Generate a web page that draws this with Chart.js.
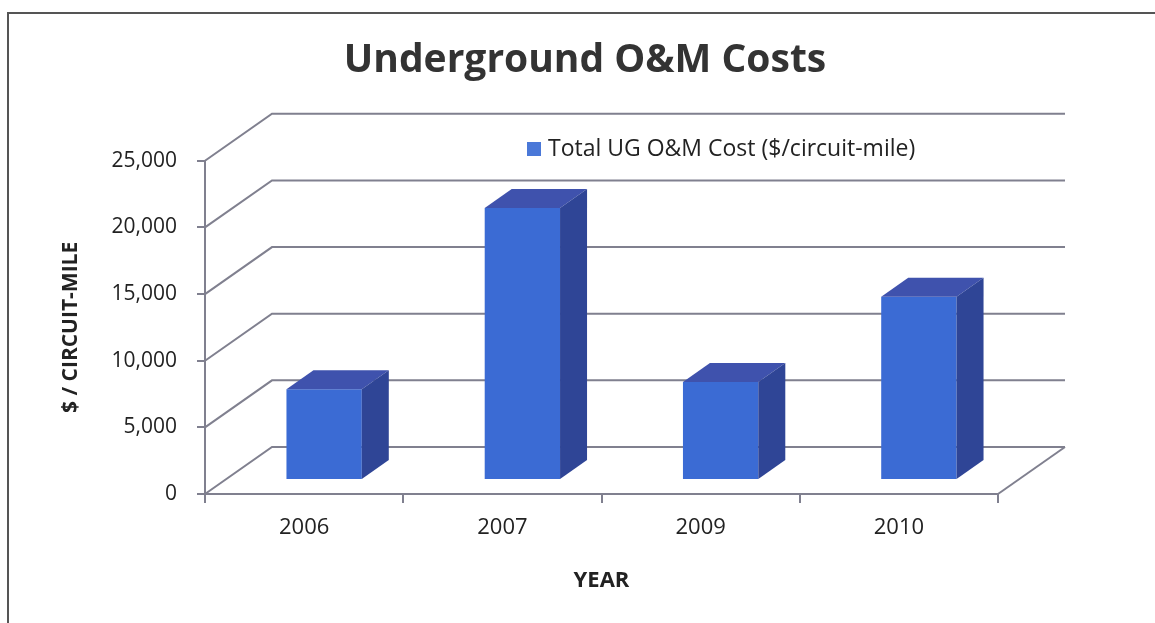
<!DOCTYPE html>
<html>
<head>
<meta charset="utf-8">
<script src="https://cdn.jsdelivr.net/npm/chart.js@4.4.0/dist/chart.umd.min.js"></script>
<style>
  html, body { margin: 0; padding: 0; background: #fff; }
  #wrap { width: 1155px; height: 623px; }
</style>
</head>
<body>
<div id="wrap"><canvas id="ugChart" width="1155" height="623"></canvas></div>
<script>
const years = ['2006', '2007', '2009', '2010'];
const ugCost = [6800, 20400, 7350, 13750];
const seriesLabel = 'Total UG O&M Cost ($/circuit-mile)';
const yTicks = [0, 5000, 10000, 15000, 20000, 25000];

// depth of the fake 3D box, and where the bars sit inside it
const DEPTH_X = 67, DEPTH_Y = -47;
const BAR_OFF_X = 20, BAR_OFF_Y = -14;
const BAR_DX = 27, BAR_DY = -19;

const lineColor = '#80808f';
const frontColor = '#3b6bd4';
const topColor = '#3f52ad';
const sideColor = '#2f4596';
const textColor = '#222';
const fontFamily = 'Open Sans';

const box3d = {
    id: 'box3d',
    beforeDraw(chart) {
        const ctx = chart.ctx;
        ctx.save();
        ctx.fillStyle = '#fff';
        ctx.fillRect(0, 0, chart.width, chart.height);
        ctx.strokeStyle = '#555';
        ctx.lineWidth = 2;
        ctx.beginPath();
        ctx.moveTo(8, chart.height);
        ctx.lineTo(8, 13);
        ctx.lineTo(chart.width, 13);
        ctx.stroke();
        ctx.restore();
    },
    beforeDatasetsDraw(chart) {
        const ctx = chart.ctx;
        const y = chart.scales.y;
        const area = chart.chartArea;
        ctx.save();
        ctx.strokeStyle = lineColor;
        ctx.lineWidth = 2;
        yTicks.forEach(function (v) {
            const py = y.getPixelForValue(v);
            ctx.beginPath();
            ctx.moveTo(area.left, py);
            ctx.lineTo(area.left + DEPTH_X, py + DEPTH_Y);
            ctx.lineTo(area.right + DEPTH_X, py + DEPTH_Y);
            ctx.stroke();
        });
        const p0 = y.getPixelForValue(0);
        ctx.beginPath();
        ctx.moveTo(area.right, p0);
        ctx.lineTo(area.right + DEPTH_X, p0 + DEPTH_Y);
        ctx.stroke();
        ctx.restore();

        // bars are drawn a bit back inside the box
        ctx.save();
        ctx.translate(BAR_OFF_X, BAR_OFF_Y);
    },
    afterDatasetsDraw(chart) {
        const ctx = chart.ctx;
        ctx.restore();
        ctx.save();
        ctx.translate(BAR_OFF_X, BAR_OFF_Y);
        chart.getDatasetMeta(0).data.forEach(function (bar) {
            const x0 = bar.x - bar.width / 2;
            const x1 = bar.x + bar.width / 2;
            const yt = bar.y;
            const yb = bar.base;
            ctx.fillStyle = topColor;
            ctx.beginPath();
            ctx.moveTo(x0, yt);
            ctx.lineTo(x0 + BAR_DX, yt + BAR_DY);
            ctx.lineTo(x1 + BAR_DX, yt + BAR_DY);
            ctx.lineTo(x1, yt);
            ctx.closePath();
            ctx.fill();
            ctx.fillStyle = sideColor;
            ctx.beginPath();
            ctx.moveTo(x1, yt);
            ctx.lineTo(x1 + BAR_DX, yt + BAR_DY);
            ctx.lineTo(x1 + BAR_DX, yb + BAR_DY);
            ctx.lineTo(x1, yb);
            ctx.closePath();
            ctx.fill();
        });
        ctx.restore();

        // legend
        ctx.save();
        ctx.fillStyle = '#4a78d8';
        ctx.fillRect(527, 142, 14, 14);
        ctx.fillStyle = textColor;
        ctx.font = '23px "' + fontFamily + '"';
        ctx.textBaseline = 'middle';
        ctx.fillText(seriesLabel, 548, 149);
        ctx.restore();
    }
};

const ctx = document.getElementById('ugChart').getContext('2d');
new Chart(ctx, {
    type: 'bar',
    data: {
        labels: years,
        datasets: [{
            label: seriesLabel,
            data: ugCost,
            backgroundColor: frontColor,
            borderWidth: 0,
            barPercentage: 0.38,
            categoryPercentage: 1
        }]
    },
    options: {
        responsive: false,
        animation: false,
        layout: { padding: { left: 15, right: 0, top: 0, bottom: 0 } },
        plugins: {
            legend: { display: false },
            tooltip: { enabled: false },
            title: {
                display: true,
                text: 'Underground O&M Costs',
                color: '#333',
                font: { family: fontFamily, size: 39, weight: 'bold' },
                padding: { top: 37, bottom: 77 }
            }
        },
        scales: {
            x: {
                afterFit(scale) { scale.height = 129; },
                grid: { drawOnChartArea: false, tickLength: 9, color: lineColor, lineWidth: 2 },
                border: { display: true, color: lineColor, width: 2 },
                ticks: { color: textColor, font: { family: fontFamily, size: 22 }, padding: 12 },
                title: {
                    display: true,
                    text: 'YEAR',
                    color: textColor,
                    font: { family: fontFamily, size: 22, weight: 'bold' },
                    padding: { top: 0, bottom: 29 }
                }
            },
            y: {
                min: 0,
                max: 25000,
                afterFit(scale) { scale.width = 190; },
                afterBuildTicks(scale) {
                    scale.ticks = yTicks.map(function (v) { return { value: v }; });
                },
                grid: { drawOnChartArea: false, tickLength: 8, color: lineColor, lineWidth: 2 },
                border: { display: true, color: lineColor, width: 2 },
                ticks: {
                    color: textColor,
                    font: { family: fontFamily, size: 21 },
                    padding: 20,
                    callback: function (v) { return v.toLocaleString('en-US'); }
                },
                title: {
                    display: true,
                    text: '$ / CIRCUIT-MILE',
                    color: textColor,
                    font: { family: fontFamily, size: 21, weight: 'bold' },
                    padding: { top: 43, bottom: 0 }
                }
            },
            spacer: {
                position: 'right',
                display: true,
                afterFit(scale) { scale.width = 157; },
                grid: { display: false },
                border: { display: false },
                ticks: { display: false }
            }
        }
    },
    plugins: [box3d]
});
</script>
</body>
</html>
